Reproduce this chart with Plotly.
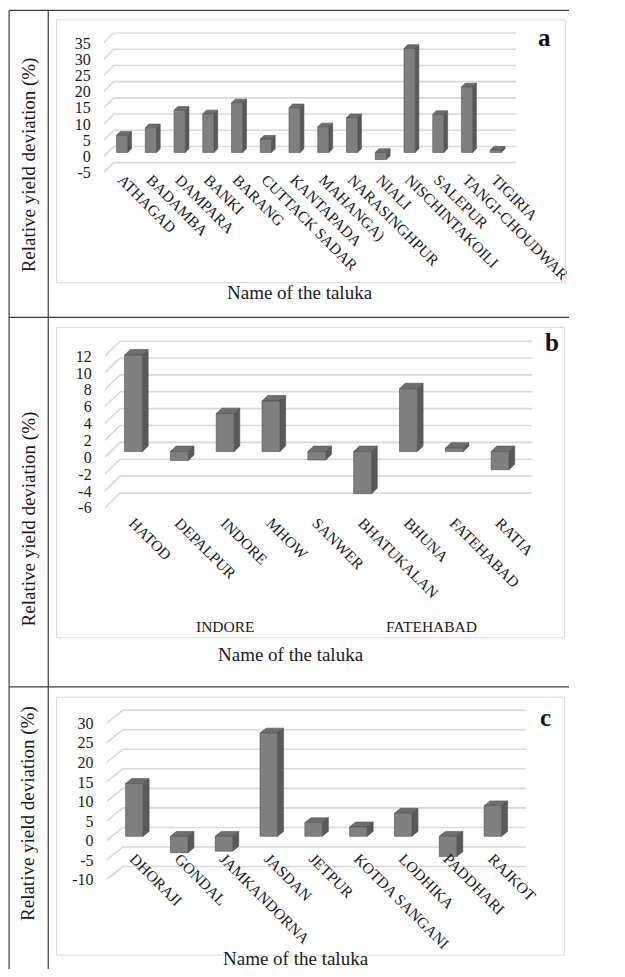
import plotly.graph_objects as go

FONT = "Liberation Serif, Times New Roman, serif"
W, H = 625, 977

# ---------------- data ----------------
talukas_a = ["ATHAGAD", "BADAMBA", "DAMPARA", "BANKI", "BARANG", "CUTTACK SADAR",
             "KANTAPADA", "MAHANGA)", "NARASINGHPUR", "NIALI", "NISCHINTAKOILI",
             "SALEPUR", "TANGI-CHOUDWAR", "TIGIRIA"]
dev_a = [5.3, 7.6, 13.0, 11.9, 15.3, 4.1, 13.8, 7.9, 10.7, -2.2, 32.1, 11.7, 20.2, 0.7]
ticks_a = [-5, 0, 5, 10, 15, 20, 25, 30, 35]

talukas_b = ["HATOD", "DEPALPUR", "INDORE", "MHOW", "SANWER",
             "BHATUKALAN", "BHUNA", "FATEHABAD", "RATIA"]
dev_b = [11.45, -1.05, 4.5, 6.0, -1.0, -5.0, 7.45, 0.4, -2.15]
ticks_b = [-6, -4, -2, 0, 2, 4, 6, 8, 10, 12]
districts_b = ["INDORE", "FATEHABAD"]
district_counts_b = [5, 4]

talukas_c = ["DHORAJI", "GONDAL", "JAMKANDORNA", "JASDAN", "JETPUR",
             "KOTDA SANGANI", "LODHIKA", "PADDHARI", "RAJKOT"]
dev_c = [13.5, -4.2, -3.8, 26.4, 3.5, 2.4, 5.9, -5.2, 7.8]
ticks_c = [-10, -5, 0, 5, 10, 15, 20, 25, 30]

# ---------------- styling ----------------
FRONT = "#7f7f7f"
SIDE = "#595959"
TOP = "#6e6e6e"
EDGE = "#505050"
GRID = "#d9d9d9"
TEXT = "#1a1a1a"
RULE = "#3a3a3a"

# pixel geometry of each panel's floor/back wall and perspective depth
panels = [
    dict(cats=talukas_a, vals=dev_a, ticks=ticks_a, sfx="",
         back_left=125, back_right=567, y_top=33.3, y_bot=164.0,
         depth_x=11, depth_y=10, zf=0.40, box=(62, 20, 621, 285), cat_standoff=-6,
         ytitle_y=166, xtitle=(330, 295), letter="a", letter_xy=(598, 38)),
    dict(cats=talukas_b, vals=dev_b, ticks=ticks_b, sfx="2",
         back_left=132, back_right=585, y_top=344.0, y_bot=497.0,
         depth_x=17, depth_y=15, zf=0.38, box=(62, 330, 620, 643), cat_standoff=2,
         ytitle_y=523, xtitle=(320, 660), letter="b", letter_xy=(606, 345)),
    dict(cats=talukas_c, vals=dev_c, ticks=ticks_c, sfx="3",
         back_left=135, back_right=578, y_top=716.0, y_bot=873.7,
         depth_x=18, depth_y=13.3, zf=0.33, box=(62, 703, 620, 963), cat_standoff=-34,
         ytitle_y=820, xtitle=(325, 966), letter="c", letter_xy=(599, 723)),
]

BAR_W = 0.39      # bar width as a fraction of the category slot
BAR_DEPTH = 0.37  # bar depth as a fraction of the floor depth


def px_x(x):
    return x / W


def px_y(y):
    return 1 - y / H


fig = go.Figure()
annotations = []
shapes = []

for p in panels:
    n = len(p["cats"])
    ticks = p["ticks"]
    cat_px = (p["back_right"] - p["back_left"]) / n
    unit_px = (p["y_bot"] - p["y_top"]) / (ticks[-1] - ticks[0])
    ddx = p["depth_x"] / cat_px
    ddy = p["depth_y"] / unit_px
    pad_lo, pad_hi = 0.03, 0.25
    y_lo = ticks[0] - pad_lo
    y_hi = ticks[-1] + ddy + pad_hi
    dom_bottom = p["y_bot"] + p["depth_y"] + pad_lo * unit_px
    dom_top = p["y_top"] - pad_hi * unit_px
    x_lo = -0.5 - ddx
    x_hi = n - 0.5

    xa = "x" + p["sfx"]
    ya = "y" + p["sfx"]

    def proj(xc, yv, z):
        # category/value/depth -> axis coordinates (z=0 front, z=1 back wall)
        return xc - ddx * (1 - z), yv + ddy * z

    # perspective gridlines: side-wall diagonal then back-wall horizontal
    gx, gy = [], []
    for t in ticks:
        for (xc, z) in [(-0.5, 0.0), (-0.5, 1.0), (n - 0.5, 1.0)]:
            X, Y = proj(xc, t, z)
            gx.append(X)
            gy.append(Y)
        gx.append(None)
        gy.append(None)
    fig.add_trace(go.Scatter(x=gx, y=gy, mode="lines", xaxis=xa, yaxis=ya,
                             line=dict(color=GRID, width=1.6),
                             hoverinfo="skip", showlegend=False))

    zf = p["zf"]
    zb = zf + BAR_DEPTH
    fx, fy, sx, sy, tx, ty = [], [], [], [], [], []
    for i, v in enumerate(p["vals"]):
        lo, hi = min(v, 0), max(v, 0)
        l, r = i - BAR_W / 2, i + BAR_W / 2
        for (xc, yv, z) in [(l, lo, zf), (r, lo, zf), (r, hi, zf), (l, hi, zf), (l, lo, zf)]:
            X, Y = proj(xc, yv, z)
            fx.append(X); fy.append(Y)
        fx.append(None); fy.append(None)
        for (xc, yv, z) in [(r, lo, zf), (r, lo, zb), (r, hi, zb), (r, hi, zf), (r, lo, zf)]:
            X, Y = proj(xc, yv, z)
            sx.append(X); sy.append(Y)
        sx.append(None); sy.append(None)
        for (xc, yv, z) in [(l, hi, zf), (r, hi, zf), (r, hi, zb), (l, hi, zb), (l, hi, zf)]:
            X, Y = proj(xc, yv, z)
            tx.append(X); ty.append(Y)
        tx.append(None); ty.append(None)

    for (xs, ys, col) in [(tx, ty, TOP), (sx, sy, SIDE), (fx, fy, FRONT)]:
        fig.add_trace(go.Scatter(x=xs, y=ys, mode="lines", fill="toself",
                                 fillcolor=col, xaxis=xa, yaxis=ya,
                                 line=dict(color=EDGE, width=0.6),
                                 hoverinfo="skip", showlegend=False))

    tick_pos = [proj(i, 0, zf)[0] for i in range(n)]

    fig.layout["xaxis" + p["sfx"]] = dict(
        domain=[px_x(p["back_left"] - p["depth_x"]), px_x(p["back_right"])],
        range=[x_lo, x_hi], anchor=ya, tickvals=tick_pos, ticktext=p["cats"],
        tickangle=45, showgrid=False, zeroline=False, showline=False, ticks="",
        ticklabelstandoff=p["cat_standoff"],
        tickfont=dict(family=FONT, size=15.5, color=TEXT), fixedrange=True)
    fig.layout["yaxis" + p["sfx"]] = dict(
        domain=[px_y(dom_bottom), px_y(dom_top)], range=[y_lo, y_hi], anchor=xa,
        tickvals=ticks, ticktext=[str(t) for t in ticks],
        showgrid=False, zeroline=False, showline=False, ticks="",
        ticklabelstandoff=12, tickfont=dict(family=FONT, size=16, color=TEXT),
        fixedrange=True)

    # chart area frame
    bx0, by0, bx1, by1 = p["box"]
    shapes.append(dict(type="rect", xref="paper", yref="paper",
                       x0=px_x(bx0), x1=px_x(bx1), y0=px_y(by1), y1=px_y(by0),
                       line=dict(color=GRID, width=1)))

    annotations.append(dict(text="Relative yield deviation (%)", textangle=-90,
                            xref="paper", yref="paper", x=px_x(31.5), y=px_y(p["ytitle_y"]),
                            showarrow=False, xanchor="center", yanchor="middle",
                            font=dict(family=FONT, size=19, color=TEXT)))
    annotations.append(dict(text="Name of the taluka", xref="paper", yref="paper",
                            x=px_x(p["xtitle"][0]), y=px_y(p["xtitle"][1]),
                            showarrow=False, xanchor="center", yanchor="middle",
                            font=dict(family=FONT, size=19, color=TEXT)))
    annotations.append(dict(text="<b>%s</b>" % p["letter"], xref="paper", yref="paper",
                            x=px_x(p["letter_xy"][0]), y=px_y(p["letter_xy"][1]),
                            showarrow=False, xanchor="center", yanchor="middle",
                            font=dict(family=FONT, size=25, color="#111")))

    if p["sfx"] == "2":
        start = 0
        for name, cnt in zip(districts_b, district_counts_b):
            centre = sum(tick_pos[start:start + cnt]) / cnt
            annotations.append(dict(text=name, xref=xa, yref="paper", x=centre,
                                    y=px_y(632), showarrow=False, xanchor="center",
                                    yanchor="middle",
                                    font=dict(family=FONT, size=15.5, color=TEXT)))
            start += cnt

# table rules around the three panels
for (x0, y0, x1, y1) in [(10, 10.5, 625, 10.5), (10, 320, 625, 320), (10, 692.5, 625, 692.5),
                         (10, 10.5, 10, 977), (53, 10.5, 53, 977)]:
    shapes.append(dict(type="line", xref="paper", yref="paper",
                       x0=px_x(x0), x1=px_x(x1), y0=px_y(y0), y1=px_y(y1),
                       line=dict(color=RULE, width=1.2)))

fig.update_layout(width=W, height=H, margin=dict(l=0, r=0, t=0, b=0),
                  paper_bgcolor="white", plot_bgcolor="rgba(0,0,0,0)",
                  shapes=shapes, annotations=annotations, showlegend=False)

fig.write_html("out.html", config={"displayModeBar": False})
